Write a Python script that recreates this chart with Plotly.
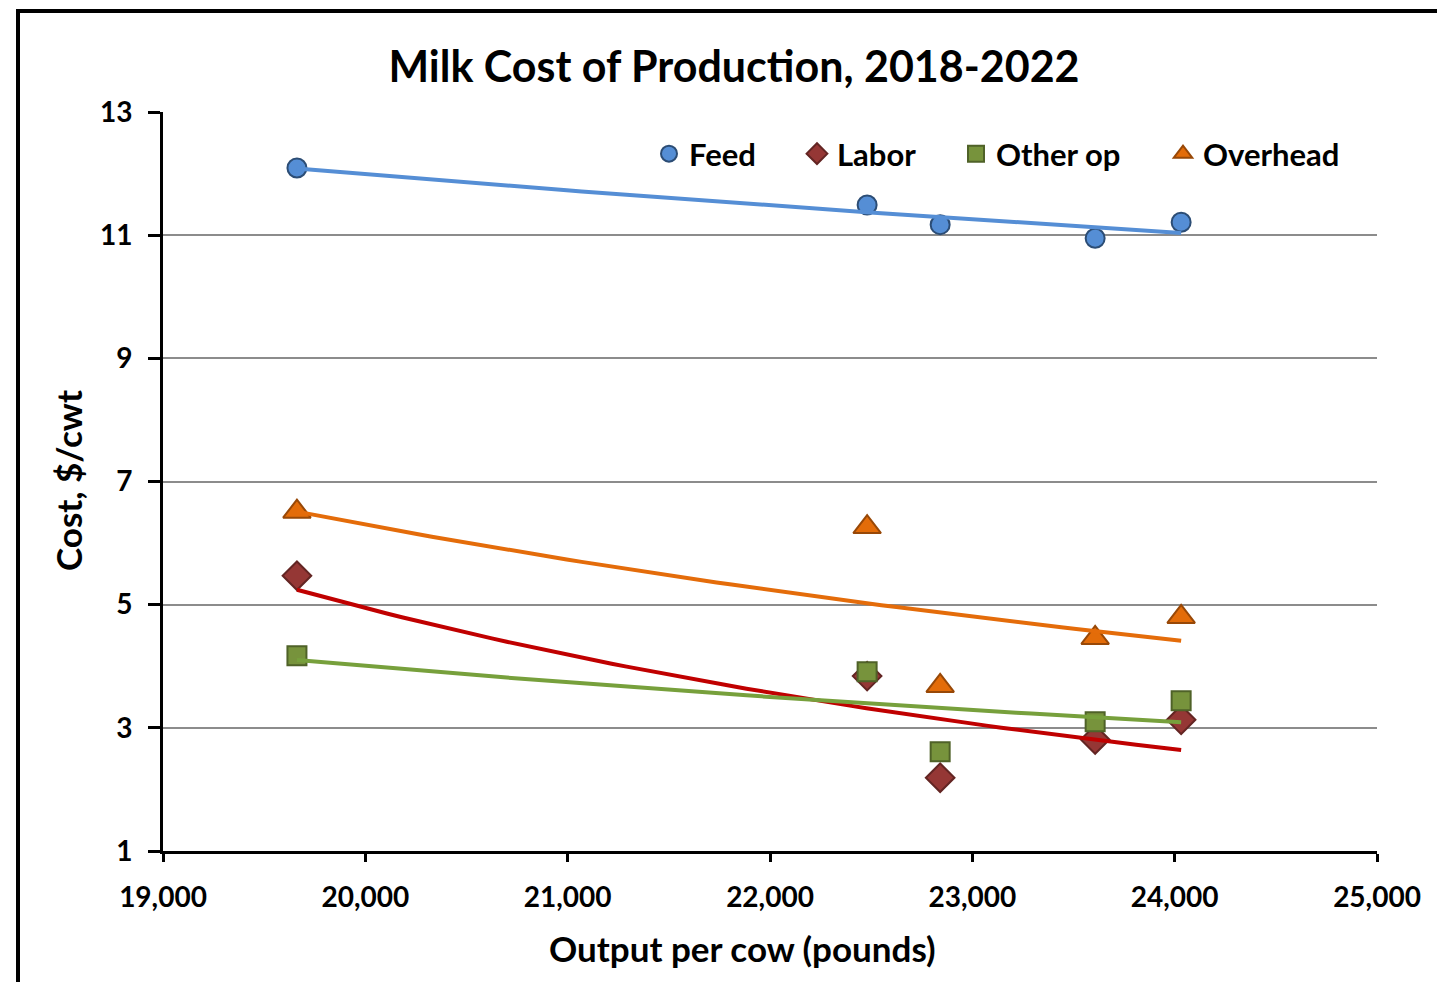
import numpy as np
import plotly.graph_objects as go

# Output per cow (pounds) for each year 2018-2022
output_lbs = [19662, 22480, 22841, 23607, 24032]

# Cost components, $/cwt
feed = [12.09, 11.49, 11.17, 10.95, 11.21]
labor = [5.47, 3.84, 2.19, 2.81, 3.13]
other_op = [4.17, 3.91, 2.61, 3.10, 3.44]
overhead = [6.51, 6.26, 3.68, 4.46, 4.80]

series_names = ["Feed", "Labor", "Other op", "Overhead"]
series_values = [feed, labor, other_op, overhead]

x_ticks = [19000, 20000, 21000, 22000, 23000, 24000, 25000]
y_ticks = [1, 3, 5, 7, 9, 11, 13]

styles = {
    "Feed": dict(symbol="circle", fill="#558ED5", edge="#2C4D75", size=19, trend="#558ED5"),
    "Labor": dict(symbol="diamond", fill="#953735", edge="#632523", size=22, trend="#C00000"),
    "Other op": dict(symbol="square", fill="#77933C", edge="#4F6228", size=19, trend="#77A03C"),
    "Overhead": dict(symbol="triangle-up", fill="#E36C09", edge="#984807", size=24, trend="#E46C0A"),
}

FONT = "Lato, 'Open Sans', Arial, sans-serif"

# Plot-area geometry in pixels (used to place the legend entries and axis titles)
W, H = 1437, 982
L, R, T, B = 163, 60, 112, 131
PW, PH = W - L - R, H - T - B


def px_x(p):
    return (p - L) / PW


def px_y(p):
    return (H - B - p) / PH


# Each legend entry gets its own legend box so the entries can be spaced freely
legend_ids = ["legend", "legend2", "legend3", "legend4"]
legend_left_px = [649, 797, 956, 1163]

fig = go.Figure()

# Data points
for name, vals, lid in zip(series_names, series_values, legend_ids):
    s = styles[name]
    fig.add_trace(go.Scatter(
        x=output_lbs, y=vals, mode="markers", name=name, legend=lid,
        marker=dict(symbol=s["symbol"], size=s["size"], color=s["fill"],
                    line=dict(color=s["edge"], width=2)),
    ))

# Power trendlines (y = a * x^b) drawn over the points
x_lo, x_hi = min(output_lbs), max(output_lbs)
xs = np.linspace(x_lo, x_hi, 60)
for name, vals in zip(series_names, series_values):
    b, ln_a = np.polyfit(np.log(output_lbs), np.log(vals), 1)
    ys = np.exp(ln_a) * xs ** b
    fig.add_trace(go.Scatter(
        x=xs, y=ys, mode="lines", showlegend=False, hoverinfo="skip",
        line=dict(color=styles[name]["trend"], width=4),
    ))

# Outer chart border
fig.add_shape(type="rect", xref="paper", yref="paper",
              x0=px_x(18), x1=px_x(1450), y0=px_y(995), y1=px_y(11),
              line=dict(color="black", width=4), fillcolor="rgba(0,0,0,0)")

legend_style = dict(orientation="h", yanchor="middle", xanchor="left",
                    font=dict(size=31, family=FONT, color="black", weight="bold"),
                    bgcolor="rgba(0,0,0,0)", itemsizing="trace", itemwidth=30)
legends = {lid: dict(legend_style, x=px_x(lp), y=px_y(154))
           for lid, lp in zip(legend_ids, legend_left_px)}

fig.update_layout(
    width=W, height=H,
    margin=dict(l=L, r=R, t=T, b=B),
    paper_bgcolor="white", plot_bgcolor="white",
    font=dict(family=FONT, color="black"),
    title=dict(text="<b>Milk Cost of Production, 2018-2022</b>",
               x=734 / W, xanchor="center", y=1 - 67 / H, yanchor="middle",
               font=dict(size=43, family=FONT, color="black")),
    showlegend=True,
    **legends,
)

# Axis titles
fig.add_annotation(text="<b>Output per cow (pounds)</b>", xref="paper", yref="paper",
                   x=px_x(742), y=px_y(948), xanchor="center", yanchor="middle",
                   showarrow=False, font=dict(size=35, family=FONT, color="black"))
fig.add_annotation(text="<b>Cost, $/cwt</b>", xref="paper", yref="paper",
                   x=px_x(68), y=px_y(481), xanchor="center", yanchor="middle",
                   textangle=-90, showarrow=False,
                   font=dict(size=35, family=FONT, color="black"))

fig.update_xaxes(
    range=[19000, 25000], tickvals=x_ticks,
    ticktext=[f"<b>{v:,}</b>" for v in x_ticks],
    tickfont=dict(size=28, family=FONT, color="black"),
    showline=True, linecolor="black", linewidth=3,
    ticks="outside", ticklen=8, tickwidth=3, tickcolor="black",
    ticklabelstandoff=11,
    showgrid=False, zeroline=False,
)
fig.update_yaxes(
    range=[1, 13], tickvals=y_ticks,
    ticktext=[f"<b>{v}</b>" for v in y_ticks],
    tickfont=dict(size=28, family=FONT, color="black"),
    showline=True, linecolor="black", linewidth=3,
    ticks="outside", ticklen=12, tickwidth=3, tickcolor="black",
    ticklabelstandoff=10,
    showgrid=True, gridcolor="#8C8C8C", gridwidth=2, zeroline=False,
)

fig.write_html("out.html")
